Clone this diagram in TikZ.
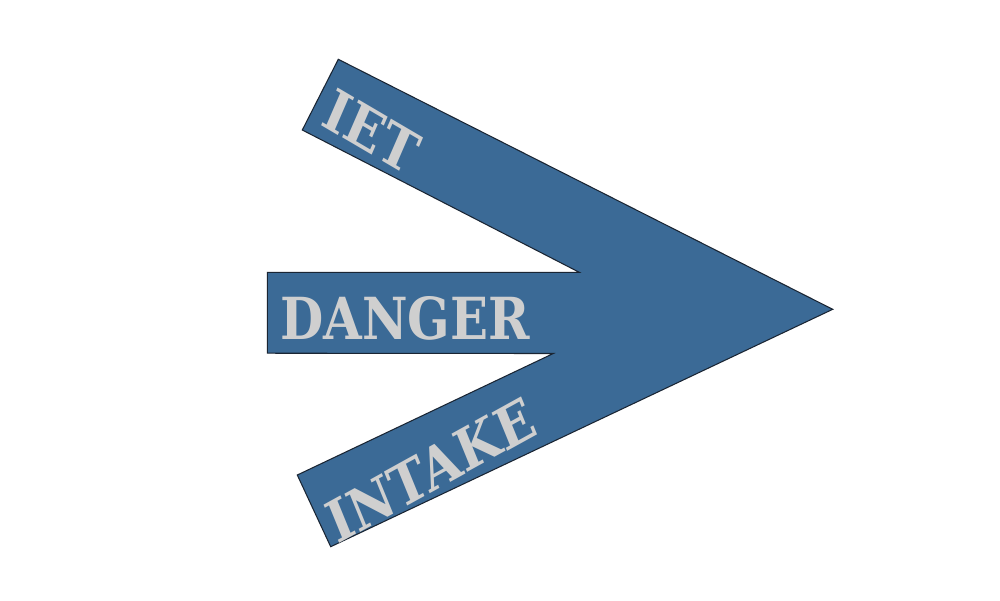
\documentclass[tikz,border=0pt]{standalone}
\usepackage{fontspec}
\newfontfamily\signfont{DejaVu Serif}
\definecolor{signblue}{HTML}{3B6A96}
\definecolor{signtext}{HTML}{CFCFCF}
\definecolor{signedge}{HTML}{1A2533}
\begin{document}
\begin{tikzpicture}[x=0.02cm,y=-0.02cm,
  signlabel/.style={text=signtext,font=\signfont\bfseries\fontsize{33}{36}\selectfont,inner sep=0pt,xscale=0.86}]
\useasboundingbox[fill=white] (0,0) rectangle (1000,600);
\coordinate (tl) at (338.3,59.3);
\coordinate (tip) at (832.7,309.3);
\coordinate (bl) at (330.7,546.7);
\coordinate (bu) at (297.3,475);
\coordinate (nb) at (553.3,353.5);
\coordinate (mbl) at (267.3,353.2);
\coordinate (mtl) at (267.3,272.3);
\coordinate (nt) at (579.3,272.3);
\coordinate (tlow) at (302.3,130);
\draw[fill=signblue,draw=signedge,line width=0.6pt,line join=miter]
  (tl) -- (tip) -- (bl) -- (bu) -- (nb) -- (mbl) -- (mtl) -- (nt) -- (tlow) -- cycle;
\node[signlabel,rotate=-26.8] (iet) at (371.7,131) {IET};
\node[signlabel] (danger) at (405,318.5) {DANGER};
\node[signlabel,rotate=25.4] (intake) at (430.7,470) {INTAKE};
\end{tikzpicture}
\end{document}
